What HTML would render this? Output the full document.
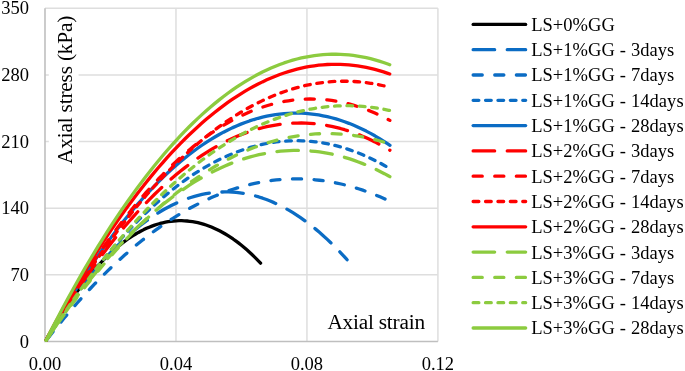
<!DOCTYPE html>
<html><head><meta charset="utf-8"><title>chart</title>
<style>
html,body{margin:0;padding:0;background:#fff;}
body{width:685px;height:371px;overflow:hidden;}
svg{display:block}
text{font-family:"Liberation Serif","Times New Roman",serif;fill:#000;}
</style></head><body>
<svg width="685" height="371" viewBox="0 0 685 371">
<rect width="685" height="371" fill="#fff"/>

<line x1="45.0" x2="437.9" y1="274.86" y2="274.86" stroke="#dedede" stroke-width="1.5"/>
<line x1="45.0" x2="437.9" y1="208.22" y2="208.22" stroke="#dedede" stroke-width="1.5"/>
<line x1="45.0" x2="437.9" y1="141.58" y2="141.58" stroke="#dedede" stroke-width="1.5"/>
<line x1="45.0" x2="437.9" y1="74.94" y2="74.94" stroke="#dedede" stroke-width="1.5"/>
<line x1="45.0" x2="437.9" y1="8.30" y2="8.30" stroke="#dedede" stroke-width="1.5"/>
<line x1="175.97" x2="175.97" y1="8.3" y2="341.5" stroke="#dedede" stroke-width="1.5"/>
<line x1="306.93" x2="306.93" y1="8.3" y2="341.5" stroke="#dedede" stroke-width="1.5"/>
<line x1="437.90" x2="437.90" y1="8.3" y2="341.5" stroke="#dedede" stroke-width="1.5"/>
<line x1="44.2" x2="437.9" y1="341.50" y2="341.50" stroke="#bfbfbf" stroke-width="1.6"/>
<line x1="45.0" x2="45.0" y1="8.30" y2="341.50" stroke="#bfbfbf" stroke-width="1.6"/>
<text x="29" y="347.6" font-size="18.5" text-anchor="end">0</text>
<text x="29" y="281.0" font-size="18.5" text-anchor="end">70</text>
<text x="29" y="214.3" font-size="18.5" text-anchor="end">140</text>
<text x="29" y="147.7" font-size="18.5" text-anchor="end">210</text>
<text x="29" y="81.0" font-size="18.5" text-anchor="end">280</text>
<text x="29" y="14.4" font-size="18.5" text-anchor="end">350</text>
<text x="45.0" y="369.5" font-size="18.5" text-anchor="middle">0.00</text>
<text x="176.0" y="369.5" font-size="18.5" text-anchor="middle">0.04</text>
<text x="306.9" y="369.5" font-size="18.5" text-anchor="middle">0.08</text>
<text x="437.9" y="369.5" font-size="18.5" text-anchor="middle">0.12</text>
<rect x="48.8" y="12" width="29.8" height="156" fill="#fff"/>
<text transform="translate(72.3,164) rotate(-90)" font-size="21.3" letter-spacing="-0.18">Axial stress (kPa)</text>
<text x="327.4" y="328.8" font-size="21.3" letter-spacing="-0.21">Axial strain</text>
<path d="M46.21 340.06 L46.48 339.57 L49.19 334.83 L51.89 330.17 L54.59 325.62 L57.30 321.16 L60.00 316.80 L62.70 312.54 L65.41 308.37 L68.11 304.30 L70.82 300.32 L73.52 296.45 L76.22 292.67 L78.93 288.98 L81.63 285.40 L84.33 281.91 L87.04 278.51 L89.74 275.22 L92.45 272.02 L95.15 268.91 L97.85 265.91 L100.56 263.00 L103.26 260.19 L105.96 257.47 L108.67 254.85 L111.37 252.33 L114.08 249.90 L116.78 247.57 L119.48 245.34 L122.19 243.21 L124.89 241.17 L127.59 239.23 L130.30 237.38 L133.00 235.63 L135.71 233.98 L138.41 232.43 L141.11 230.97 L143.82 229.61 L146.52 228.34 L149.22 227.17 L151.93 226.10 L154.63 225.13 L157.34 224.25 L160.04 223.47 L162.74 222.79 L165.45 222.20 L168.15 221.71 L170.85 221.32 L173.56 221.02 L176.26 220.82 L178.97 220.72 L181.67 220.71 L184.37 220.80 L187.08 220.99 L189.78 221.27 L192.48 221.65 L195.19 222.13 L197.89 222.70 L200.60 223.37 L203.30 224.14 L206.00 225.00 L208.71 225.97 L211.41 227.02 L214.11 228.18 L216.82 229.43 L219.52 230.78 L222.23 232.22 L224.93 233.76 L227.63 235.40 L230.34 237.14 L233.04 238.97 L235.74 240.90 L238.45 242.92 L241.15 245.05 L243.86 247.27 L246.56 249.58 L249.26 251.99 L251.97 254.50 L254.67 257.11 L257.37 259.81 L260.08 262.61 L260.57 263.13" fill="none" stroke="#000000" stroke-width="3.3" stroke-linecap="round" stroke-linejoin="round"/>
<path d="M46.25 340.09 L46.91 339.00 L50.70 332.84 L54.48 326.81 L58.27 320.91 L62.05 315.14 L65.84 309.50 L69.62 304.00 L73.41 298.63 L77.19 293.39 L80.98 288.28 L84.76 283.31 L88.55 278.46 L92.33 273.75 L96.12 269.17 L99.90 264.72 L103.69 260.41 L107.47 256.22 L111.26 252.17 L115.04 248.25 L118.83 244.46 L122.61 240.80 L126.40 237.28 L130.18 233.88 L133.97 230.62 L137.75 227.49 L141.54 224.50 L145.32 221.63 L149.11 218.90 L152.89 216.29 L156.68 213.82 L160.46 211.48 L164.25 209.28 L168.03 207.20 L171.82 205.26 L175.60 203.45 L179.39 201.77 L183.17 200.22 L186.96 198.81 L190.74 197.52 L194.53 196.37 L198.31 195.35 L202.10 194.46 L205.88 193.71 L209.67 193.08 L213.45 192.59 L217.24 192.23 L221.02 192.00 L224.81 191.90 L228.59 191.94 L232.38 192.11 L236.16 192.40 L239.95 192.83 L243.73 193.40 L247.52 194.09 L251.30 194.92 L255.09 195.87 L258.87 196.96 L262.66 198.19 L266.44 199.54 L270.23 201.02 L274.01 202.64 L277.80 204.39 L281.58 206.27 L285.37 208.28 L289.15 210.43 L292.94 212.71 L296.72 215.11 L300.51 217.65 L304.29 220.33 L308.08 223.13 L311.86 226.07 L315.65 229.13 L319.43 232.33 L323.22 235.66 L327.00 239.13 L330.79 242.72 L334.57 246.45 L338.36 250.31 L342.14 254.30 L345.93 258.42 L347.10 259.73" fill="none" stroke="#0b6cc4" stroke-width="3.3" stroke-linecap="round" stroke-linejoin="round" stroke-dasharray="21.5 12.6"/>
<path d="M46.41 340.20 L47.13 339.27 L51.45 333.76 L55.78 328.34 L60.10 323.03 L64.42 317.80 L68.75 312.68 L73.07 307.65 L77.40 302.72 L81.72 297.88 L86.04 293.14 L90.37 288.50 L94.69 283.95 L99.01 279.50 L103.34 275.14 L107.66 270.89 L111.99 266.72 L116.31 262.66 L120.63 258.69 L124.96 254.82 L129.28 251.04 L133.60 247.36 L137.93 243.78 L142.25 240.29 L146.58 236.90 L150.90 233.60 L155.22 230.40 L159.55 227.30 L163.87 224.30 L168.19 221.39 L172.52 218.57 L176.84 215.86 L181.17 213.24 L185.49 210.71 L189.81 208.28 L194.14 205.95 L198.46 203.72 L202.78 201.58 L207.11 199.54 L211.43 197.59 L215.76 195.74 L220.08 193.99 L224.40 192.33 L228.73 190.77 L233.05 189.31 L237.37 187.94 L241.70 186.67 L246.02 185.49 L250.35 184.41 L254.67 183.43 L258.99 182.54 L263.32 181.75 L267.64 181.06 L271.96 180.46 L276.29 179.96 L280.61 179.56 L284.94 179.25 L289.26 179.04 L293.58 178.92 L297.91 178.90 L302.23 178.98 L306.55 179.16 L310.88 179.43 L315.20 179.79 L319.53 180.25 L323.85 180.81 L328.17 181.47 L332.50 182.22 L336.82 183.07 L341.14 184.01 L345.47 185.05 L349.79 186.19 L354.12 187.42 L358.44 188.75 L362.76 190.18 L367.09 191.70 L371.41 193.32 L375.73 195.04 L380.06 196.85 L384.38 198.76 L388.71 200.76 L389.81 201.29" fill="none" stroke="#0b6cc4" stroke-width="3.3" stroke-linecap="round" stroke-linejoin="round" stroke-dasharray="9.1 12.5" stroke-dashoffset="-1.6"/>
<path d="M46.28 340.10 L47.13 338.74 L51.45 331.93 L55.78 325.23 L60.10 318.66 L64.42 312.20 L68.75 305.87 L73.07 299.65 L77.40 293.55 L81.72 287.57 L86.04 281.71 L90.37 275.97 L94.69 270.35 L99.01 264.85 L103.34 259.47 L107.66 254.21 L111.99 249.06 L116.31 244.04 L120.63 239.13 L124.96 234.35 L129.28 229.68 L133.60 225.13 L137.93 220.71 L142.25 216.40 L146.58 212.21 L150.90 208.14 L155.22 204.19 L159.55 200.35 L163.87 196.64 L168.19 193.05 L172.52 189.57 L176.84 186.22 L181.17 182.98 L185.49 179.87 L189.81 176.87 L194.14 173.99 L198.46 171.23 L202.78 168.60 L207.11 166.08 L211.43 163.67 L215.76 161.39 L220.08 159.23 L224.40 157.19 L228.73 155.26 L233.05 153.46 L237.37 151.78 L241.70 150.21 L246.02 148.76 L250.35 147.44 L254.67 146.23 L258.99 145.14 L263.32 144.17 L267.64 143.32 L271.96 142.59 L276.29 141.98 L280.61 141.49 L284.94 141.11 L289.26 140.86 L293.58 140.72 L297.91 140.71 L302.23 140.81 L306.55 141.04 L310.88 141.38 L315.20 141.84 L319.53 142.42 L323.85 143.12 L328.17 143.94 L332.50 144.88 L336.82 145.94 L341.14 147.11 L345.47 148.41 L349.79 149.83 L354.12 151.36 L358.44 153.02 L362.76 154.79 L367.09 156.68 L371.41 158.70 L375.73 160.83 L380.06 163.08 L384.38 165.45 L388.71 167.94 L389.89 168.64" fill="none" stroke="#0b6cc4" stroke-width="3.3" stroke-linecap="round" stroke-linejoin="round" stroke-dasharray="5.7 6.7"/>
<path d="M46.19 340.05 L46.26 339.93 L50.59 332.14 L54.91 324.48 L59.24 316.97 L63.56 309.59 L67.88 302.34 L72.21 295.23 L76.53 288.26 L80.85 281.42 L85.18 274.72 L89.50 268.16 L93.83 261.73 L98.15 255.44 L102.47 249.28 L106.80 243.26 L111.12 237.38 L115.44 231.63 L119.77 226.02 L124.09 220.54 L128.42 215.20 L132.74 210.00 L137.06 204.93 L141.39 200.00 L145.71 195.20 L150.03 190.54 L154.36 186.02 L158.68 181.63 L163.01 177.38 L167.33 173.27 L171.65 169.29 L175.98 165.45 L180.30 161.74 L184.62 158.17 L188.95 154.73 L193.27 151.44 L197.60 148.27 L201.92 145.25 L206.24 142.36 L210.57 139.60 L214.89 136.99 L219.21 134.50 L223.54 132.16 L227.86 129.95 L232.19 127.88 L236.51 125.94 L240.83 124.14 L245.16 122.47 L249.48 120.94 L253.80 119.55 L258.13 118.29 L262.45 117.17 L266.78 116.19 L271.10 115.34 L275.42 114.63 L279.75 114.05 L284.07 113.61 L288.39 113.31 L292.72 113.14 L297.04 113.10 L301.37 113.21 L305.69 113.45 L310.01 113.83 L314.34 114.34 L318.66 114.99 L322.98 115.77 L327.31 116.69 L331.63 117.75 L335.96 118.94 L340.28 120.27 L344.60 121.73 L348.93 123.33 L353.25 125.07 L357.57 126.95 L361.90 128.95 L366.22 131.10 L370.55 133.38 L374.87 135.80 L379.19 138.35 L383.52 141.04 L387.84 143.87 L389.94 145.29" fill="none" stroke="#0b6cc4" stroke-width="3.3" stroke-linecap="round" stroke-linejoin="round"/>
<path d="M46.23 340.07 L46.26 340.02 L50.59 332.69 L54.91 325.48 L59.24 318.40 L63.56 311.44 L67.88 304.61 L72.21 297.91 L76.53 291.33 L80.85 284.88 L85.18 278.56 L89.50 272.36 L93.83 266.29 L98.15 260.34 L102.47 254.52 L106.80 248.82 L111.12 243.25 L115.44 237.81 L119.77 232.50 L124.09 227.30 L128.42 222.24 L132.74 217.30 L137.06 212.49 L141.39 207.80 L145.71 203.24 L150.03 198.81 L154.36 194.50 L158.68 190.32 L163.01 186.26 L167.33 182.33 L171.65 178.53 L175.98 174.85 L180.30 171.30 L184.62 167.87 L188.95 164.57 L193.27 161.40 L197.60 158.35 L201.92 155.43 L206.24 152.63 L210.57 149.96 L214.89 147.42 L219.21 145.00 L223.54 142.71 L227.86 140.54 L232.19 138.50 L236.51 136.59 L240.83 134.80 L245.16 133.14 L249.48 131.60 L253.80 130.19 L258.13 128.91 L262.45 127.75 L266.78 126.72 L271.10 125.82 L275.42 125.04 L279.75 124.38 L284.07 123.86 L288.39 123.45 L292.72 123.18 L297.04 123.03 L301.37 123.01 L305.69 123.11 L310.01 123.34 L314.34 123.69 L318.66 124.17 L322.98 124.78 L327.31 125.51 L331.63 126.37 L335.96 127.36 L340.28 128.47 L344.60 129.71 L348.93 131.07 L353.25 132.56 L357.57 134.17 L361.90 135.92 L366.22 137.78 L370.55 139.78 L374.87 141.90 L379.19 144.14 L383.52 146.51 L387.84 149.01 L389.89 150.24" fill="none" stroke="#ff0000" stroke-width="3.3" stroke-linecap="round" stroke-linejoin="round" stroke-dasharray="21.5 12.6"/>
<path d="M46.19 340.05 L46.26 339.92 L50.59 332.12 L54.91 324.44 L59.24 316.89 L63.56 309.47 L67.88 302.18 L72.21 295.02 L76.53 287.98 L80.85 281.08 L85.18 274.30 L89.50 267.65 L93.83 261.13 L98.15 254.74 L102.47 248.48 L106.80 242.34 L111.12 236.34 L115.44 230.46 L119.77 224.71 L124.09 219.09 L128.42 213.60 L132.74 208.24 L137.06 203.00 L141.39 197.89 L145.71 192.92 L150.03 188.07 L154.36 183.35 L158.68 178.75 L163.01 174.29 L167.33 169.96 L171.65 165.75 L175.98 161.67 L180.30 157.72 L184.62 153.90 L188.95 150.21 L193.27 146.64 L197.60 143.21 L201.92 139.90 L206.24 136.72 L210.57 133.67 L214.89 130.75 L219.21 127.96 L223.54 125.30 L227.86 122.76 L232.19 120.35 L236.51 118.07 L240.83 115.92 L245.16 113.90 L249.48 112.01 L253.80 110.25 L258.13 108.61 L262.45 107.10 L266.78 105.72 L271.10 104.47 L275.42 103.35 L279.75 102.36 L284.07 101.49 L288.39 100.76 L292.72 100.15 L297.04 99.67 L301.37 99.32 L305.69 99.10 L310.01 99.00 L314.34 99.04 L318.66 99.20 L322.98 99.49 L327.31 99.91 L331.63 100.46 L335.96 101.14 L340.28 101.95 L344.60 102.88 L348.93 103.94 L353.25 105.14 L357.57 106.46 L361.90 107.91 L366.22 109.48 L370.55 111.19 L374.87 113.02 L379.19 114.99 L383.52 117.08 L387.84 119.30 L389.85 120.37" fill="none" stroke="#ff0000" stroke-width="3.3" stroke-linecap="round" stroke-linejoin="round" stroke-dasharray="9.1 12.5" stroke-dashoffset="-1.0"/>
<path d="M46.22 340.07 L46.26 339.99 L50.59 332.53 L54.91 325.18 L59.24 317.94 L63.56 310.80 L67.88 303.78 L72.21 296.86 L76.53 290.05 L80.85 283.36 L85.18 276.77 L89.50 270.29 L93.83 263.92 L98.15 257.66 L102.47 251.50 L106.80 245.46 L111.12 239.53 L115.44 233.70 L119.77 227.99 L124.09 222.38 L128.42 216.88 L132.74 211.50 L137.06 206.22 L141.39 201.05 L145.71 195.99 L150.03 191.04 L154.36 186.19 L158.68 181.46 L163.01 176.84 L167.33 172.32 L171.65 167.92 L175.98 163.62 L180.30 159.43 L184.62 155.35 L188.95 151.39 L193.27 147.53 L197.60 143.77 L201.92 140.13 L206.24 136.60 L210.57 133.18 L214.89 129.86 L219.21 126.66 L223.54 123.56 L227.86 120.58 L232.19 117.70 L236.51 114.93 L240.83 112.27 L245.16 109.72 L249.48 107.28 L253.80 104.95 L258.13 102.73 L262.45 100.61 L266.78 98.61 L271.10 96.72 L275.42 94.93 L279.75 93.25 L284.07 91.69 L288.39 90.23 L292.72 88.88 L297.04 87.64 L301.37 86.51 L305.69 85.48 L310.01 84.57 L314.34 83.77 L318.66 83.07 L322.98 82.49 L327.31 82.01 L331.63 81.65 L335.96 81.39 L340.28 81.24 L344.60 81.20 L348.93 81.27 L353.25 81.45 L357.57 81.74 L361.90 82.14 L366.22 82.64 L370.55 83.26 L374.87 83.98 L379.19 84.82 L383.52 85.76 L387.84 86.81 L389.71 87.30" fill="none" stroke="#ff0000" stroke-width="3.3" stroke-linecap="round" stroke-linejoin="round" stroke-dasharray="5.7 6.7"/>
<path d="M46.17 340.04 L46.26 339.85 L50.59 331.67 L54.91 323.62 L59.24 315.69 L63.56 307.88 L67.88 300.20 L72.21 292.64 L76.53 285.20 L80.85 277.88 L85.18 270.69 L89.50 263.62 L93.83 256.68 L98.15 249.86 L102.47 243.16 L106.80 236.58 L111.12 230.13 L115.44 223.80 L119.77 217.59 L124.09 211.51 L128.42 205.55 L132.74 199.71 L137.06 194.00 L141.39 188.41 L145.71 182.94 L150.03 177.60 L154.36 172.38 L158.68 167.28 L163.01 162.30 L167.33 157.45 L171.65 152.72 L175.98 148.12 L180.30 143.64 L184.62 139.28 L188.95 135.04 L193.27 130.93 L197.60 126.94 L201.92 123.07 L206.24 119.33 L210.57 115.71 L214.89 112.21 L219.21 108.84 L223.54 105.59 L227.86 102.46 L232.19 99.46 L236.51 96.58 L240.83 93.82 L245.16 91.18 L249.48 88.67 L253.80 86.28 L258.13 84.02 L262.45 81.88 L266.78 79.86 L271.10 77.96 L275.42 76.19 L279.75 74.54 L284.07 73.01 L288.39 71.61 L292.72 70.33 L297.04 69.17 L301.37 68.14 L305.69 67.23 L310.01 66.44 L314.34 65.78 L318.66 65.23 L322.98 64.82 L327.31 64.52 L331.63 64.35 L335.96 64.30 L340.28 64.38 L344.60 64.57 L348.93 64.89 L353.25 65.34 L357.57 65.91 L361.90 66.60 L366.22 67.41 L370.55 68.35 L374.87 69.41 L379.19 70.59 L383.52 71.89 L387.84 73.32 L389.75 73.99" fill="none" stroke="#ff0000" stroke-width="3.3" stroke-linecap="round" stroke-linejoin="round"/>
<path d="M46.31 340.12 L47.13 338.88 L51.45 332.40 L55.78 326.04 L60.10 319.80 L64.42 313.66 L68.75 307.64 L73.07 301.73 L77.40 295.94 L81.72 290.25 L86.04 284.68 L90.37 279.23 L94.69 273.89 L99.01 268.66 L103.34 263.54 L107.66 258.54 L111.99 253.65 L116.31 248.87 L120.63 244.21 L124.96 239.66 L129.28 235.22 L133.60 230.89 L137.93 226.68 L142.25 222.58 L146.58 218.60 L150.90 214.73 L155.22 210.97 L159.55 207.32 L163.87 203.79 L168.19 200.37 L172.52 197.06 L176.84 193.87 L181.17 190.79 L185.49 187.83 L189.81 184.97 L194.14 182.23 L198.46 179.60 L202.78 177.09 L207.11 174.69 L211.43 172.40 L215.76 170.23 L220.08 168.17 L224.40 166.22 L228.73 164.38 L233.05 162.66 L237.37 161.05 L241.70 159.55 L246.02 158.17 L250.35 156.90 L254.67 155.75 L258.99 154.70 L263.32 153.77 L267.64 152.96 L271.96 152.25 L276.29 151.66 L280.61 151.18 L284.94 150.82 L289.26 150.57 L293.58 150.43 L297.91 150.40 L302.23 150.49 L306.55 150.69 L310.88 151.01 L315.20 151.44 L319.53 151.98 L323.85 152.63 L328.17 153.40 L332.50 154.28 L336.82 155.27 L341.14 156.38 L345.47 157.60 L349.79 158.93 L354.12 160.38 L358.44 161.93 L362.76 163.61 L367.09 165.39 L371.41 167.29 L375.73 169.30 L380.06 171.43 L384.38 173.66 L388.71 176.02 L389.87 176.67" fill="none" stroke="#8ccb3f" stroke-width="3.3" stroke-linecap="round" stroke-linejoin="round" stroke-dasharray="21.5 12.6"/>
<path d="M46.33 340.13 L47.13 338.95 L51.45 332.66 L55.78 326.46 L60.10 320.36 L64.42 314.36 L68.75 308.45 L73.07 302.65 L77.40 296.94 L81.72 291.33 L86.04 285.82 L90.37 280.40 L94.69 275.09 L99.01 269.87 L103.34 264.75 L107.66 259.73 L111.99 254.81 L116.31 249.98 L120.63 245.25 L124.96 240.62 L129.28 236.09 L133.60 231.66 L137.93 227.32 L142.25 223.08 L146.58 218.95 L150.90 214.90 L155.22 210.96 L159.55 207.11 L163.87 203.37 L168.19 199.72 L172.52 196.17 L176.84 192.71 L181.17 189.36 L185.49 186.10 L189.81 182.94 L194.14 179.88 L198.46 176.92 L202.78 174.05 L207.11 171.28 L211.43 168.62 L215.76 166.04 L220.08 163.57 L224.40 161.20 L228.73 158.92 L233.05 156.74 L237.37 154.66 L241.70 152.68 L246.02 150.79 L250.35 149.00 L254.67 147.32 L258.99 145.73 L263.32 144.23 L267.64 142.84 L271.96 141.54 L276.29 140.34 L280.61 139.24 L284.94 138.24 L289.26 137.33 L293.58 136.53 L297.91 135.82 L302.23 135.21 L306.55 134.70 L310.88 134.28 L315.20 133.96 L319.53 133.75 L323.85 133.63 L328.17 133.60 L332.50 133.68 L336.82 133.85 L341.14 134.12 L345.47 134.49 L349.79 134.96 L354.12 135.53 L358.44 136.19 L362.76 136.95 L367.09 137.81 L371.41 138.77 L375.73 139.83 L380.06 140.98 L384.38 142.23 L388.71 143.58 L389.73 143.92" fill="none" stroke="#8ccb3f" stroke-width="3.3" stroke-linecap="round" stroke-linejoin="round" stroke-dasharray="9.1 12.5"/>
<path d="M46.29 340.11 L47.13 338.80 L51.45 332.12 L55.78 325.54 L60.10 319.06 L64.42 312.67 L68.75 306.38 L73.07 300.19 L77.40 294.09 L81.72 288.09 L86.04 282.19 L90.37 276.39 L94.69 270.68 L99.01 265.07 L103.34 259.56 L107.66 254.14 L111.99 248.82 L116.31 243.60 L120.63 238.47 L124.96 233.45 L129.28 228.52 L133.60 223.68 L137.93 218.94 L142.25 214.30 L146.58 209.76 L150.90 205.32 L155.22 200.97 L159.55 196.72 L163.87 192.56 L168.19 188.50 L172.52 184.54 L176.84 180.68 L181.17 176.91 L185.49 173.24 L189.81 169.67 L194.14 166.20 L198.46 162.82 L202.78 159.54 L207.11 156.35 L211.43 153.27 L215.76 150.28 L220.08 147.38 L224.40 144.59 L228.73 141.89 L233.05 139.29 L237.37 136.78 L241.70 134.37 L246.02 132.06 L250.35 129.85 L254.67 127.73 L258.99 125.71 L263.32 123.79 L267.64 121.97 L271.96 120.24 L276.29 118.61 L280.61 117.07 L284.94 115.63 L289.26 114.29 L293.58 113.05 L297.91 111.91 L302.23 110.86 L306.55 109.90 L310.88 109.05 L315.20 108.29 L319.53 107.63 L323.85 107.07 L328.17 106.60 L332.50 106.23 L336.82 105.96 L341.14 105.78 L345.47 105.70 L349.79 105.72 L354.12 105.84 L358.44 106.05 L362.76 106.36 L367.09 106.77 L371.41 107.27 L375.73 107.87 L380.06 108.57 L384.38 109.37 L388.71 110.26 L389.69 110.48" fill="none" stroke="#8ccb3f" stroke-width="3.3" stroke-linecap="round" stroke-linejoin="round" stroke-dasharray="5.7 6.7"/>
<path d="M46.14 340.03 L46.26 339.78 L50.59 331.28 L54.91 322.90 L59.24 314.66 L63.56 306.54 L67.88 298.55 L72.21 290.69 L76.53 282.96 L80.85 275.35 L85.18 267.88 L89.50 260.53 L93.83 253.31 L98.15 246.22 L102.47 239.26 L106.80 232.43 L111.12 225.72 L115.44 219.15 L119.77 212.70 L124.09 206.38 L128.42 200.19 L132.74 194.13 L137.06 188.20 L141.39 182.39 L145.71 176.72 L150.03 171.17 L154.36 165.75 L158.68 160.46 L163.01 155.30 L167.33 150.26 L171.65 145.36 L175.98 140.58 L180.30 135.93 L184.62 131.41 L188.95 127.02 L193.27 122.76 L197.60 118.63 L201.92 114.62 L206.24 110.75 L210.57 107.00 L214.89 103.38 L219.21 99.89 L223.54 96.52 L227.86 93.29 L232.19 90.18 L236.51 87.21 L240.83 84.36 L245.16 81.64 L249.48 79.05 L253.80 76.58 L258.13 74.25 L262.45 72.04 L266.78 69.97 L271.10 68.02 L275.42 66.20 L279.75 64.51 L284.07 62.94 L288.39 61.51 L292.72 60.20 L297.04 59.02 L301.37 57.97 L305.69 57.05 L310.01 56.26 L314.34 55.60 L318.66 55.06 L322.98 54.66 L327.31 54.38 L331.63 54.23 L335.96 54.21 L340.28 54.31 L344.60 54.55 L348.93 54.92 L353.25 55.41 L357.57 56.03 L361.90 56.78 L366.22 57.66 L370.55 58.67 L374.87 59.80 L379.19 61.07 L383.52 62.46 L387.84 63.98 L389.76 64.70" fill="none" stroke="#8ccb3f" stroke-width="3.3" stroke-linecap="round" stroke-linejoin="round"/>
<line x1="473.15" x2="525.65" y1="24.40" y2="24.40" stroke="#000000" stroke-width="3.3" stroke-linecap="round"/>
<text x="531.2" y="30.80" font-size="18.5" letter-spacing="0.04" word-spacing="0.3">LS+0%GG</text>
<line x1="473.15" x2="525.65" y1="49.70" y2="49.70" stroke="#0b6cc4" stroke-width="3.3" stroke-linecap="round" stroke-dasharray="21.5 12.6"/>
<text x="531.2" y="56.10" font-size="18.5" letter-spacing="0.04" word-spacing="0.3">LS+1%GG - 3days</text>
<line x1="473.15" x2="525.65" y1="75.00" y2="75.00" stroke="#0b6cc4" stroke-width="3.3" stroke-linecap="round" stroke-dasharray="9.1 12.5"/>
<text x="531.2" y="81.40" font-size="18.5" letter-spacing="0.04" word-spacing="0.3">LS+1%GG - 7days</text>
<line x1="473.15" x2="525.65" y1="100.30" y2="100.30" stroke="#0b6cc4" stroke-width="3.3" stroke-linecap="round" stroke-dasharray="5.7 6.7"/>
<text x="531.2" y="106.70" font-size="18.5" letter-spacing="0.04" word-spacing="0.3">LS+1%GG - 14days</text>
<line x1="473.15" x2="525.65" y1="125.60" y2="125.60" stroke="#0b6cc4" stroke-width="3.3" stroke-linecap="round"/>
<text x="531.2" y="132.00" font-size="18.5" letter-spacing="0.04" word-spacing="0.3">LS+1%GG - 28days</text>
<line x1="473.15" x2="525.65" y1="150.90" y2="150.90" stroke="#ff0000" stroke-width="3.3" stroke-linecap="round" stroke-dasharray="21.5 12.6"/>
<text x="531.2" y="157.30" font-size="18.5" letter-spacing="0.04" word-spacing="0.3">LS+2%GG - 3days</text>
<line x1="473.15" x2="525.65" y1="176.20" y2="176.20" stroke="#ff0000" stroke-width="3.3" stroke-linecap="round" stroke-dasharray="9.1 12.5"/>
<text x="531.2" y="182.60" font-size="18.5" letter-spacing="0.04" word-spacing="0.3">LS+2%GG - 7days</text>
<line x1="473.15" x2="525.65" y1="201.50" y2="201.50" stroke="#ff0000" stroke-width="3.3" stroke-linecap="round" stroke-dasharray="5.7 6.7"/>
<text x="531.2" y="207.90" font-size="18.5" letter-spacing="0.04" word-spacing="0.3">LS+2%GG - 14days</text>
<line x1="473.15" x2="525.65" y1="226.80" y2="226.80" stroke="#ff0000" stroke-width="3.3" stroke-linecap="round"/>
<text x="531.2" y="233.20" font-size="18.5" letter-spacing="0.04" word-spacing="0.3">LS+2%GG - 28days</text>
<line x1="473.15" x2="525.65" y1="252.10" y2="252.10" stroke="#8ccb3f" stroke-width="3.3" stroke-linecap="round" stroke-dasharray="21.5 12.6"/>
<text x="531.2" y="258.50" font-size="18.5" letter-spacing="0.04" word-spacing="0.3">LS+3%GG - 3days</text>
<line x1="473.15" x2="525.65" y1="277.40" y2="277.40" stroke="#8ccb3f" stroke-width="3.3" stroke-linecap="round" stroke-dasharray="9.1 12.5"/>
<text x="531.2" y="283.80" font-size="18.5" letter-spacing="0.04" word-spacing="0.3">LS+3%GG - 7days</text>
<line x1="473.15" x2="525.65" y1="302.70" y2="302.70" stroke="#8ccb3f" stroke-width="3.3" stroke-linecap="round" stroke-dasharray="5.7 6.7"/>
<text x="531.2" y="309.10" font-size="18.5" letter-spacing="0.04" word-spacing="0.3">LS+3%GG - 14days</text>
<line x1="473.15" x2="525.65" y1="328.00" y2="328.00" stroke="#8ccb3f" stroke-width="3.3" stroke-linecap="round"/>
<text x="531.2" y="334.40" font-size="18.5" letter-spacing="0.04" word-spacing="0.3">LS+3%GG - 28days</text>
</svg></body></html>
